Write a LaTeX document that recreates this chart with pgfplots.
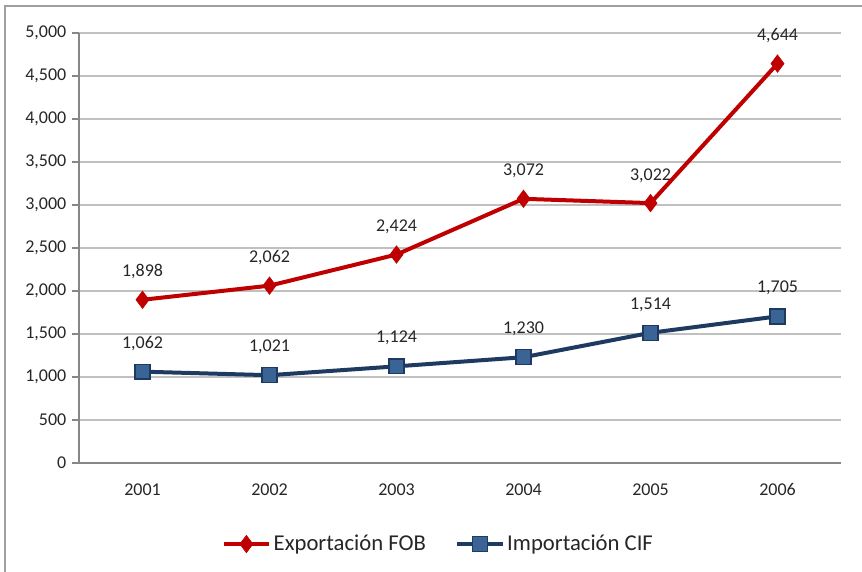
\documentclass[border=0pt]{standalone}
\usepackage{pgfplots}
\pgfplotsset{compat=1.18}
\usepackage{fontspec}
\setmainfont{Carlito}
\definecolor{expred}{HTML}{C00000}
\definecolor{impnavy}{HTML}{1F3A60}
\definecolor{impfill}{HTML}{3A6496}
\definecolor{axgray}{HTML}{878787}
\definecolor{gridgray}{HTML}{C0C0C0}
\definecolor{txt}{HTML}{262626}
\begin{document}
\begin{tikzpicture}
\useasboundingbox (0pt,0pt) rectangle (646.5pt,428.25pt);
\draw[axgray!80, line width=1.2pt] (3.75pt,-10pt) -- (3.75pt,423.75pt) -- (660pt,423.75pt);
\begin{axis}[
  at={(59.25pt,81pt)}, anchor=south west,
  scale only axis, width=571.5pt, height=322.5pt,
  xmin=-0.5, xmax=5.5, ymin=0, ymax=5000,
  xtick={0,...,5}, xticklabels={2001,2002,2003,2004,2005,2006},
  extra x ticks={-0.5,0.5,1.5,2.5,3.5,4.5,5.5},
  extra x tick labels={},
  extra x tick style={major tick length=5pt, tick align=outside, grid=none, tick style={axgray, line width=0.8pt}},
  x tick style={draw=none},
  ytick={0,500,...,5000},
  y tick style={axgray, line width=0.8pt},
  major tick length=5pt, tick align=outside,
  ymajorgrids, grid style={gridgray, line width=0.9pt},
  axis x line*=bottom, axis y line*=left,
  axis line style={axgray, line width=1.2pt, -},
  /pgf/number format/1000 sep={,},
  /pgf/number format/fixed,
  /pgf/number format/assume math mode=true,
  tick label style={font=\fontsize{13.5}{15}\selectfont, text=txt},
  xticklabel style={yshift=-7pt},
  yticklabel style={xshift=-1pt},
  nodes near coords, point meta=explicit symbolic,
  every node near coord/.style={font=\fontsize{13.5}{15}\selectfont, text=txt, yshift=12pt},
  legend style={at={(0.5,-0.155)}, anchor=north, xshift=-16pt, draw=none, legend columns=2,
    font=\fontsize{17}{19}\selectfont, text=txt, inner xsep=0pt,
    /tikz/every even column/.style={column sep=20pt},
    /tikz/every odd column/.style={column sep=0pt}},
  legend cell align=left,
  legend image code/.code={
    \draw[#1] (0pt,0pt) -- (34pt,0pt);
    \draw[#1, mark repeat=1] plot coordinates {(17pt,0pt)};
  },
]
\addplot[expred, line width=3pt, mark=diamond*, mark size=6.5pt,
  mark options={solid, fill=expred, draw=expred, line width=0.5pt}]
  table[meta=lab] {
x y lab
0 1898 {1,898}
1 2062 {2,062}
2 2424 {2,424}
3 3072 {3,072}
4 3022 {3,022}
5 4644 {4,644}
};
\addlegendentry{Exportación FOB}
\addplot[impnavy, line width=3pt, mark=square*, mark size=5.6pt,
  mark options={solid, fill=impfill, draw=impnavy, line width=1pt}]
  table[meta=lab] {
x y lab
0 1062 {1,062}
1 1021 {1,021}
2 1124 {1,124}
3 1230 {1,230}
4 1514 {1,514}
5 1705 {1,705}
};
\addlegendentry{Importación CIF}
\end{axis}
\end{tikzpicture}
\end{document}
